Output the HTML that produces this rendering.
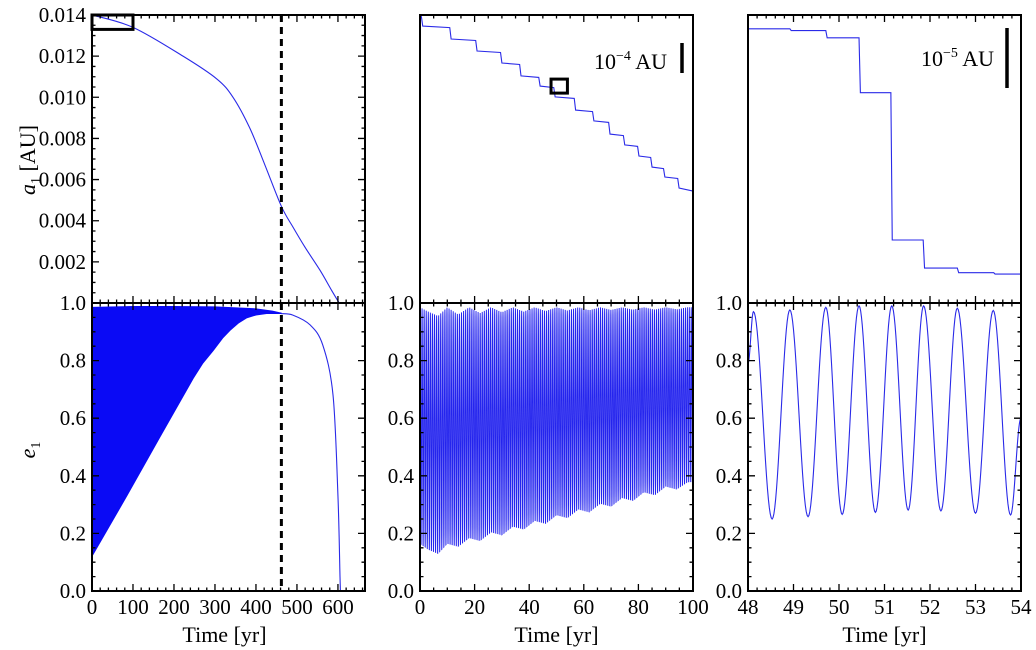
<!DOCTYPE html>
<html><head><meta charset="utf-8">
<style>
html,body{margin:0;padding:0;background:#fff;}
svg{display:block;font-family:"Liberation Serif","DejaVu Serif",serif;}
text{font-family:"Liberation Serif","DejaVu Serif",serif;}
</style></head>
<body>
<svg id="chart" width="1036" height="650" viewBox="0 0 1036 650" xmlns="http://www.w3.org/2000/svg"></svg>
<script>
// ---- data ----
const leftT = [0,100,222,304,344,385,422,462,490,520,556,585,603];
const leftA = [0.014,0.0134,0.0120,0.0109,0.0100,0.0085,0.0067,0.0047,0.0037,0.0027,0.0016,0.0006,0];
const eUpperT = [0,100,200,300,400,440,462];
const eUpper = [0.985,0.988,0.988,0.987,0.98,0.972,0.965];
const eLowerT = [0,2,85,166,247,270,296,320,337,357,377,400,426,462];
const eLower = [0.16,0.125,0.33,0.535,0.738,0.79,0.835,0.88,0.905,0.93,0.948,0.958,0.963,0.963];
const decayT = [462,490,532,563,588,600,605,606];
const decayE = [0.963,0.958,0.924,0.854,0.68,0.33,0.05,0];
const dashT = 462;
const midDropT = [1,11.4,20.9,30,37,44,49.5,57,63.7,69.6,75,80.2,85,89.7,94.9];
const midLevels = [9.6,9.23,8.8,8.4,8.0,7.57,7.23,6.87,6.43,6.07,5.63,5.27,4.9,4.53,4.2,3.83];
const midEnd = 3.73;
const midEnvT = [0,3,6.6,10,14,18,22,26,30,34,38,42,46,50,54,58,62,66,70,74,78,82,86,90,94,98,100];
const midLower = [0.16,0.14,0.125,0.16,0.15,0.18,0.17,0.2,0.19,0.22,0.21,0.24,0.23,0.26,0.25,0.28,0.27,0.3,0.29,0.32,0.31,0.34,0.33,0.36,0.35,0.375,0.376];
const midUpper = [0.985,0.97,0.955,0.985,0.96,0.985,0.965,0.985,0.968,0.985,0.97,0.985,0.972,0.985,0.974,0.985,0.975,0.985,0.976,0.985,0.977,0.985,0.977,0.985,0.978,0.985,0.985];
const midPeriod = 0.76;
const rightDropT = [48.92,49.71,50.44,51.14,51.85,52.6,53.4];
const rightLevels = [45.7,45.4,44.2,35.05,10.5,5.83,5.05,4.83];
const rightExtT = [48.0,48.12,48.53,48.92,49.32,49.71,50.07,50.44,50.8,51.16,51.52,51.86,52.24,52.6,53.0,53.39,53.77,54.0];
const rightExtE = [0.79,0.97,0.25,0.976,0.258,0.985,0.266,0.99,0.273,0.99,0.281,0.99,0.278,0.982,0.27,0.974,0.264,0.6];
const xTicksL = [0,100,200,300,400,500,600];
const xTicksM = [0,20,40,60,80,100];
const xTicksR = [48,49,50,51,52,53,54];
const aTicks = [0.002,0.004,0.006,0.008,0.010,0.012,0.014];
const eTicks = [0.0,0.2,0.4,0.6,0.8,1.0];

const svg = document.getElementById('chart');
const NS = 'http://www.w3.org/2000/svg';
function mk(tag, attrs, parent){const e=document.createElementNS(NS,tag);for(const k in attrs)e.setAttribute(k,attrs[k]);(parent||svg).appendChild(e);return e;}
function lin(d0,d1,r0,r1){return v=>r0+(v-d0)/(d1-d0)*(r1-r0);}
function interp(xs,ys,x){if(x<=xs[0])return ys[0];for(let i=1;i<xs.length;i++){if(x<=xs[i]){const f=(x-xs[i-1])/(xs[i]-xs[i-1]);return ys[i-1]+f*(ys[i]-ys[i-1]);}}return ys[ys.length-1];}
function smoothPath(pts){let d='M'+pts[0][0]+','+pts[0][1];for(let i=0;i<pts.length-1;i++){const p0=pts[Math.max(0,i-1)],p1=pts[i],p2=pts[i+1],p3=pts[Math.min(pts.length-1,i+2)];const c1=[p1[0]+(p2[0]-p0[0])/6,p1[1]+(p2[1]-p0[1])/6];const c2=[p2[0]-(p3[0]-p1[0])/6,p2[1]-(p3[1]-p1[1])/6];d+='C'+c1[0].toFixed(2)+','+c1[1].toFixed(2)+' '+c2[0].toFixed(2)+','+c2[1].toFixed(2)+' '+p2[0].toFixed(2)+','+p2[1].toFixed(2);}return d;}

const PX=[92,420,748], W=273, TOP=[15,303], H=288;
const BLUE='#2a2ae8';
const FONT='Liberation Serif, DejaVu Serif, serif';

function ticks(g,x0,y0,w,h,xs,xMaj,xMin,ys,yMaj,yMin,yTicksOn){
  let d='';
  xMaj.forEach(v=>{const x=xs(v);d+=`M${x},${y0+h}v-7M${x},${y0}v7`;});
  xMin.forEach(v=>{const x=xs(v);d+=`M${x},${y0+h}v-3.5M${x},${y0}v3.5`;});
  if(yTicksOn){
    yMaj.forEach(v=>{const y=ys(v);d+=`M${x0},${y}h7M${x0+w},${y}h-7`;});
    yMin.forEach(v=>{const y=ys(v);d+=`M${x0},${y}h3.5M${x0+w},${y}h-3.5`;});
  }
  const p=mk('path',{d:d,stroke:'#000','stroke-width':1.3,fill:'none'},g);
  
  
}
function range(a,b,s){const r=[];for(let v=a;v<=b+1e-9;v+=s)r.push(+v.toFixed(6));return r;}
function frame(g,x0,y0){const r=mk('rect',{x:x0,y:y0,width:W,height:H,fill:'none',stroke:'#000','stroke-width':2},g);}
function text(g,x,y,s,anchor,size,name){const t=mk('text',{x:x,y:y,'text-anchor':anchor,'font-size':size||21,fill:'#000','font-family':FONT},g);t.textContent=s;return t;}

// ===== Left top =====
{
const g=mk('g',{});
const xs=lin(0,666,PX[0],PX[0]+W), ys=lin(0,0.014,TOP[0]+H,TOP[0]);
const pts=leftT.map((t,i)=>[xs(t),ys(leftA[i])]);
const p=mk('path',{d:smoothPath(pts),fill:'none',stroke:BLUE,'stroke-width':1.1},g);

const dl=mk('line',{x1:xs(dashT),x2:xs(dashT),y1:TOP[0],y2:TOP[0]+H,stroke:'#000','stroke-width':3,'stroke-dasharray':'7,5'},g);

const zb=mk('rect',{x:xs(0),y:ys(0.014),width:xs(100)-xs(0),height:ys(0.0133)-ys(0.014),fill:'none',stroke:'#000','stroke-width':3},g);

ticks(g,PX[0],TOP[0],W,H,xs,xTicksL,range(0,660,20),ys,aTicks,range(0,0.014,0.0005),true);
frame(g,PX[0],TOP[0]);
aTicks.forEach(v=>text(g,86,ys(v)+7,v.toFixed(3),'end',21,'y-tick-label'));
const yl=text(g,0,0,'','middle',22,'y-axis-title-a1');
yl.setAttribute('transform','translate(35,160) rotate(-90)');
yl.innerHTML='<tspan font-style="italic">a</tspan><tspan font-size="14" dy="5">1</tspan><tspan dy="-5"> [AU]</tspan>';
}
// ===== Left bottom =====
{
const g=mk('g',{});
const y0=TOP[1];
const xs=lin(0,666,PX[0],PX[0]+W), ys=lin(0,1,y0+H,y0);
let d='';
eUpperT.forEach((t,i)=>{d+=(i?'L':'M')+xs(t).toFixed(2)+','+ys(eUpper[i]).toFixed(2);});
for(let i=eLowerT.length-1;i>=0;i--){d+='L'+xs(eLowerT[i]).toFixed(2)+','+ys(eLower[i]).toFixed(2);}
const f=mk('path',{d:d+'Z',fill:'#0a0af5',stroke:'#0a0af5','stroke-width':0.8},g);

const p=mk('path',{d:smoothPath(decayT.map((t,i)=>[xs(t),ys(decayE[i])])),fill:'none',stroke:BLUE,'stroke-width':1.1},g);

const dl=mk('line',{x1:xs(dashT),x2:xs(dashT),y1:y0,y2:y0+H,stroke:'#000','stroke-width':3,'stroke-dasharray':'7,5'},g);

ticks(g,PX[0],y0,W,H,xs,xTicksL,range(0,660,20),ys,eTicks,range(0,1,0.05),true);
frame(g,PX[0],y0);
eTicks.forEach(v=>text(g,86,ys(v)+7,v.toFixed(1),'end',21,'y-tick-label'));
xTicksL.forEach(v=>text(g,xs(v),614,String(v),'middle',21,'x-tick-label'));
text(g,PX[0]+W/2-4,642,'Time [yr]','middle',22,'x-axis-title');
const yl=text(g,0,0,'','middle',22,'y-axis-title-e1');
yl.setAttribute('transform','translate(35,450) rotate(-90)');
yl.innerHTML='<tspan font-style="italic">e</tspan><tspan font-size="14" dy="5">1</tspan>';
}
// ===== Middle top =====
{
const g=mk('g',{});
const xs=lin(0,100,PX[1],PX[1]+W), ys=lin(0,9.6,TOP[0]+H,TOP[0]);
let d='M'+xs(0)+','+ys(midLevels[0]);
midDropT.forEach((t,i)=>{d+='L'+xs(t-0.5).toFixed(2)+','+ys(midLevels[i]-0.05).toFixed(2)+'L'+xs(t).toFixed(2)+','+ys(midLevels[i+1]).toFixed(2);});
d+='L'+xs(100)+','+ys(midEnd);
const p=mk('path',{d:d,fill:'none',stroke:BLUE,'stroke-width':1.1},g);

const zb=mk('rect',{x:xs(48),y:ys(7.23)-7,width:xs(54)-xs(48),height:14,fill:'none',stroke:'#000','stroke-width':3},g);

const sb=mk('line',{x1:682,x2:682,y1:43,y2:43+(ys(0)-ys(1)),stroke:'#000','stroke-width':3.5},g);

const t=text(g,667,69,'','end',22,'scale-bar-label');
t.innerHTML='10<tspan font-size="14" dy="-9">−4</tspan><tspan dy="9"> AU</tspan>';
ticks(g,PX[1],TOP[0],W,H,xs,xTicksM,range(0,100,5),ys,[],[],false);
frame(g,PX[1],TOP[0]);
}
// ===== Middle bottom =====
{
const g=mk('g',{});
const y0=TOP[1];
const xs=lin(0,100,PX[1],PX[1]+W), ys=lin(0,1,y0+H,y0);
let d='';
for(let t=0;t<=100;t+=0.04){
  const lo=interp(midEnvT,midLower,t), hi=interp(midEnvT,midUpper,t);
  const e=lo+(hi-lo)*(0.5+0.5*Math.cos(2*Math.PI*t/midPeriod));
  d+=(t?'L':'M')+xs(t).toFixed(2)+','+ys(e).toFixed(2);
}
const p=mk('path',{d:d,fill:'none',stroke:'#2424ee','stroke-width':0.95},g);

ticks(g,PX[1],y0,W,H,xs,xTicksM,range(0,100,5),ys,eTicks,range(0,1,0.05),true);
frame(g,PX[1],y0);
eTicks.forEach(v=>text(g,414,ys(v)+7,v.toFixed(1),'end',21,'y-tick-label'));
xTicksM.forEach(v=>text(g,xs(v),614,String(v),'middle',21,'x-tick-label'));
text(g,PX[1]+W/2,642,'Time [yr]','middle',22,'x-axis-title');
}
// ===== Right top =====
{
const g=mk('g',{});
const xs=lin(48,54,PX[2],PX[2]+W), ys=lin(0,48,TOP[0]+H,TOP[0]);
let d='M'+xs(48)+','+ys(rightLevels[0]);
rightDropT.forEach((t,i)=>{d+='L'+xs(t).toFixed(2)+','+ys(rightLevels[i]).toFixed(2)+'L'+xs(t+0.03).toFixed(2)+','+ys(rightLevels[i+1]).toFixed(2);});
d+='L'+xs(54)+','+ys(rightLevels[rightLevels.length-1]);
const p=mk('path',{d:d,fill:'none',stroke:BLUE,'stroke-width':1.1},g);

const sb=mk('line',{x1:1007,x2:1007,y1:28,y2:28+(ys(0)-ys(10)),stroke:'#000','stroke-width':3.5},g);

const t=text(g,994,66,'','end',22,'scale-bar-label');
t.innerHTML='10<tspan font-size="14" dy="-9">−5</tspan><tspan dy="9"> AU</tspan>';
ticks(g,PX[2],TOP[0],W,H,xs,xTicksR,range(48,54,0.2),ys,[],[],false);
frame(g,PX[2],TOP[0]);
}
// ===== Right bottom =====
{
const g=mk('g',{});
const y0=TOP[1];
const xs=lin(48,54,PX[2],PX[2]+W), ys=lin(0,1,y0+H,y0);
let d='';
for(let i=0;i<rightExtT.length-1;i++){
  const t0=rightExtT[i],t1=rightExtT[i+1],e0=rightExtE[i],e1=rightExtE[i+1];
  for(let k=0;k<=20;k++){const f=k/20;const t=t0+(t1-t0)*f;const e=e0+(e1-e0)*(0.5-0.5*Math.cos(Math.PI*f));
    d+=(d?'L':'M')+xs(t).toFixed(2)+','+ys(e).toFixed(2);}
}
const p=mk('path',{d:d,fill:'none',stroke:BLUE,'stroke-width':1.1},g);

ticks(g,PX[2],y0,W,H,xs,xTicksR,range(48,54,0.2),ys,eTicks,range(0,1,0.05),true);
frame(g,PX[2],y0);
eTicks.forEach(v=>text(g,742,ys(v)+7,v.toFixed(1),'end',21,'y-tick-label'));
xTicksR.forEach(v=>text(g,xs(v),614,String(v),'middle',21,'x-tick-label'));
text(g,PX[2]+W/2,642,'Time [yr]','middle',22,'x-axis-title');
}
</script>
</body></html>
